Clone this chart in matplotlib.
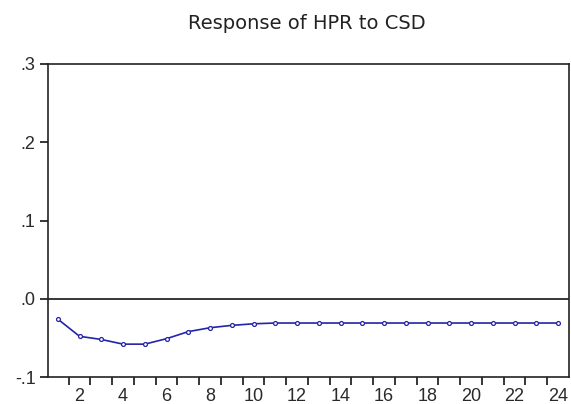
import matplotlib
matplotlib.use("Agg")
import matplotlib.pyplot as plt
import numpy as np

# Impulse response of HPR to a shock in CSD, periods 1..24
periods = list(range(1, 25))
response = [-0.026, -0.048, -0.052, -0.058, -0.058, -0.051, -0.042, -0.037,
            -0.034, -0.032, -0.031, -0.031, -0.031, -0.031, -0.031, -0.031,
            -0.031, -0.031, -0.031, -0.031, -0.031, -0.031, -0.031, -0.031]

y_ticks = [-0.1, 0.0, 0.1, 0.2, 0.3]
y_tick_labels = ["-.1", ".0", ".1", ".2", ".3"]
x_label_positions = [2, 4, 6, 8, 10, 12, 14, 16, 18, 20, 22, 24]
title = "Response of HPR to CSD"

plt.rcParams["font.family"] = ["Liberation Sans", "DejaVu Sans"]

fig = plt.figure(figsize=(5.71, 4.04), dpi=100)
ax = fig.add_axes([0.0841, 0.0668, 0.9124, 0.7748])

line_color = "#2424a8"
ax.axhline(0.0, color="black", linewidth=1.1, zorder=1)
ax.plot(periods, response, color=line_color, linewidth=1.2,
        marker="o", markersize=2.8, markerfacecolor="white",
        markeredgecolor=line_color, markeredgewidth=0.9, zorder=3)

ax.set_xlim(0.55, 24.5)
ax.set_ylim(-0.1, 0.3)

# y axis
ax.set_yticks(y_ticks)
ax.set_yticklabels(y_tick_labels)

# x axis: ticks between periods, labels on even periods without tick marks
ax.set_xticks(np.arange(1.5, 24.0, 1.0))
ax.set_xticklabels([])
ax.set_xticks(x_label_positions, minor=True)
ax.set_xticklabels([str(v) for v in x_label_positions], minor=True)
ax.tick_params(axis="x", which="minor", length=0, pad=8)
ax.tick_params(axis="x", which="major", length=6, width=1.1, direction="out")
ax.tick_params(axis="y", length=6, width=1.1, direction="out", pad=3)
ax.tick_params(axis="both", which="both", labelsize=13, labelcolor="#2a2a2a")

for s in ax.spines.values():
    s.set_linewidth(1.2)
    s.set_color("#222222")

fig.text(0.538, 0.943, title, ha="center", va="center", fontsize=14,
         family="DejaVu Sans", color="#222222")

fig.savefig("out.png", dpi=100)
